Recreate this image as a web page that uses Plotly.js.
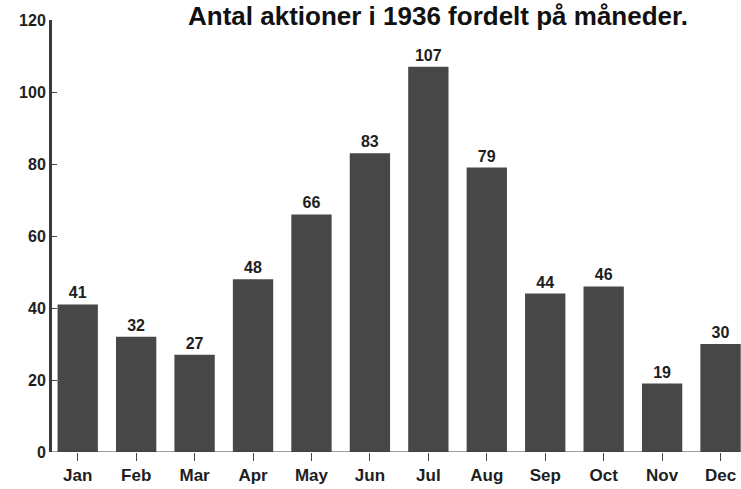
<!DOCTYPE html>
<html>
<head>
<meta charset="utf-8">
<script src="https://cdn.plot.ly/plotly-3.0.1.min.js"></script>
<style>html,body{margin:0;padding:0;background:#fff;}#chart{width:741px;height:489px;}</style>
</head>
<body>
<div id="chart"></div>
<script>
const months = ["Jan","Feb","Mar","Apr","May","Jun","Jul","Aug","Sep","Oct","Nov","Dec"];
const actions = [41,32,27,48,66,83,107,79,44,46,19,30];
const yTicks = [0,20,40,60,80,100,120];
const titleText = "Antal aktioner i 1936 fordelt på måneder.";

const font = {family: "Liberation Sans, Arial, sans-serif", color: "#1e1e1e"};

const trace = {
  type: "bar",
  x: months,
  y: actions,
  marker: {color: "#474747", line: {width: 0}},
  text: actions.map(String),
  textposition: "outside",
  cliponaxis: false,
  textfont: {family: font.family, size: 16, color: "#1e1e1e", weight: "bold"},
  width: 0.69,
  hoverinfo: "skip"
};

const layout = {
  width: 741, height: 489,
  margin: {l: 52, r: 0, t: 20, b: 37},
  paper_bgcolor: "#fff", plot_bgcolor: "#fff",
  showlegend: false,
  font: font,
  xaxis: {
    type: "category",
    range: [-0.44, 11.35],
    showline: false,
    showgrid: false,
    zeroline: false,
    ticks: "outside", ticklen: 8, tickwidth: 1, tickcolor: "#444",
    tickfont: {family: font.family, size: 17, color: "#1e1e1e", weight: "bold"},
    fixedrange: true
  },
  yaxis: {
    range: [0, 120],
    tickvals: yTicks,
    ticktext: yTicks.map(String),
    showline: true, linewidth: 3, linecolor: "#3a3a3a",
    showgrid: false, zeroline: false,
    ticks: "inside", ticklen: 5, tickwidth: 1, tickcolor: "#444",
    tickfont: {family: font.family, size: 16, color: "#1e1e1e", weight: "bold"},
    fixedrange: true
  },
  shapes: [
    {type: "line", xref: "paper", yref: "y", x0: 0, x1: 1, y0: 0, y1: 0, line: {color: "#3a3a3a", width: 1}}
  ],
  annotations: [
    {text: "<b>" + titleText + "</b>", xref: "paper", yref: "paper", x: 0.56, y: 1.0, yshift: 4,
     xanchor: "center", yanchor: "middle", showarrow: false,
     font: {family: font.family, size: 26, color: "#111"}}
  ]
};

Plotly.newPlot("chart", [trace], layout, {displayModeBar: false, staticPlot: true});
</script>
</body>
</html>
